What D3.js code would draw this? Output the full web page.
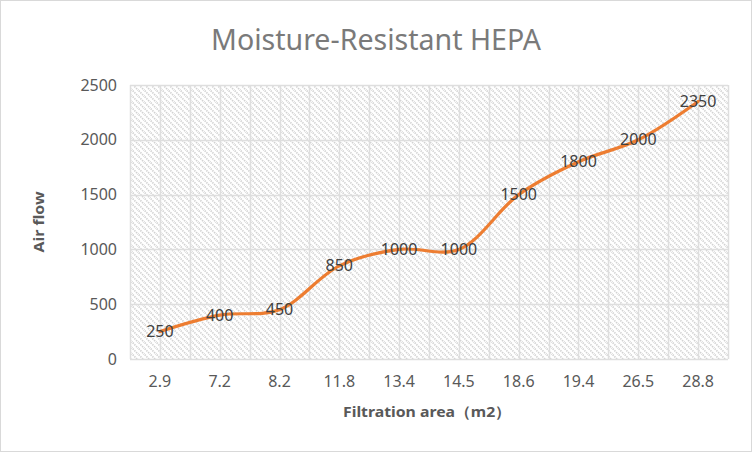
<!DOCTYPE html>
<html>
<head>
<meta charset="utf-8">
<script src="https://cdn.jsdelivr.net/npm/d3@7"></script>
<style>
html,body{margin:0;padding:0;background:#fff;}
svg{display:block;}
</style>
</head>
<body>
<svg id="chart" width="752" height="452"></svg>
<script>
const categories = ["2.9","7.2","8.2","11.8","13.4","14.5","18.6","19.4","26.5","28.8"];
const airFlow = [250,400,450,850,1000,1000,1500,1800,2000,2350];
const yTicks = [0,500,1000,1500,2000,2500];
const titleText = "Moisture-Resistant HEPA";
const xTitle = "Filtration area（m2）";
const yTitle = "Air flow";

const W = 752, H = 452;
const m = {left:130, right:24, top:85, bottom:93};
const svg = d3.select("#chart");
const font = "'Noto Sans', 'DejaVu Sans', sans-serif";

// outer border
svg.append("rect").attr("x",0.5).attr("y",0.5).attr("width",W-1).attr("height",H-1)
  .attr("fill","#fff").attr("stroke","#d9d9d9");

// hatch pattern
const defs = svg.append("defs");
const pat = defs.append("pattern").attr("id","hatch").attr("patternUnits","userSpaceOnUse")
  .attr("width",6).attr("height",6);
pat.append("rect").attr("width",6).attr("height",6).attr("fill","#fff");
pat.append("path").attr("d","M-1,-1 L7,7 M-4,2 L2,8 M2,-4 L8,2")
  .attr("stroke","#d2d2d2").attr("stroke-width",1.7).attr("stroke-dasharray","1.4,1");

const x = d3.scaleBand().domain(categories).range([m.left, W-m.right]).padding(0);
const y = d3.scaleLinear().domain([0,2500]).range([H-m.bottom, m.top]);
const bw = x.bandwidth();

// plot background
svg.append("rect").attr("x",m.left).attr("y",m.top)
  .attr("width",W-m.right-m.left).attr("height",H-m.bottom-m.top)
  .attr("fill","url(#hatch)");

// vertical gridlines at band edges and centers
const vlines = [];
categories.forEach(c=>{ vlines.push(x(c)); vlines.push(x(c)+bw/2); });
vlines.push(x(categories[categories.length-1])+bw);
svg.append("g").selectAll("line").data(vlines).join("line")
  .attr("x1",d=>Math.round(d)+0.5).attr("x2",d=>Math.round(d)+0.5)
  .attr("y1",m.top).attr("y2",H-m.bottom)
  .attr("stroke","#dedede").attr("stroke-width",1.5);

// horizontal gridlines
svg.append("g").selectAll("line").data(yTicks).join("line")
  .attr("x1",m.left).attr("x2",W-m.right)
  .attr("y1",d=>Math.round(y(d))+0.5).attr("y2",d=>Math.round(y(d))+0.5)
  .attr("stroke","#dedede").attr("stroke-width",1.5);

// y axis
const ya = svg.append("g").attr("transform",`translate(${m.left-13},0)`)
  .call(d3.axisLeft(y).tickValues(yTicks).tickSize(0).tickPadding(0).tickFormat(d3.format("d")));
ya.select(".domain").remove();
ya.selectAll("text").attr("font-family",font).attr("font-size",16).attr("fill","#595959");

// x axis
const xa = svg.append("g").attr("transform",`translate(0,${H-m.bottom})`)
  .call(d3.axisBottom(x).tickSize(0).tickPadding(17));
xa.select(".domain").remove();
xa.selectAll("text").attr("font-family",font).attr("font-size",16).attr("fill","#595959");

// line
const line = d3.line().x((d,i)=>x(categories[i])+bw/2).y(d=>y(d)).curve(d3.curveCatmullRom.alpha(0.5));
svg.append("path").datum(airFlow).attr("d",line).attr("fill","none")
  .attr("stroke","#ED7D31").attr("stroke-width",3.2).attr("stroke-linecap","round");

// data labels
svg.append("g").selectAll("text").data(airFlow).join("text")
  .attr("x",(d,i)=>x(categories[i])+bw/2).attr("y",d=>y(d))
  .attr("dy","0.35em").attr("text-anchor","middle")
  .attr("font-family",font).attr("font-size",16).attr("fill","#404040")
  .text(d=>d);

// title
svg.append("text").attr("x",376).attr("y",50).attr("text-anchor","middle")
  .attr("font-family",font).attr("font-weight",400).attr("font-size",29).attr("fill","#7a7a7a")
  .attr("textLength",330).attr("lengthAdjust","spacingAndGlyphs").text(titleText);

// axis titles
svg.append("text").attr("x",427).attr("y",417).attr("text-anchor","middle")
  .attr("font-family",font).attr("font-weight","bold").attr("font-size",15).attr("fill","#595959")
  .attr("textLength",168).attr("lengthAdjust","spacingAndGlyphs").text(xTitle);
svg.append("text").attr("transform","translate(44,222) rotate(-90)").attr("text-anchor","middle")
  .attr("font-family",font).attr("font-weight","bold").attr("font-size",15).attr("fill","#595959")
  .attr("textLength",61).attr("lengthAdjust","spacingAndGlyphs").text(yTitle);
</script>
</body>
</html>
